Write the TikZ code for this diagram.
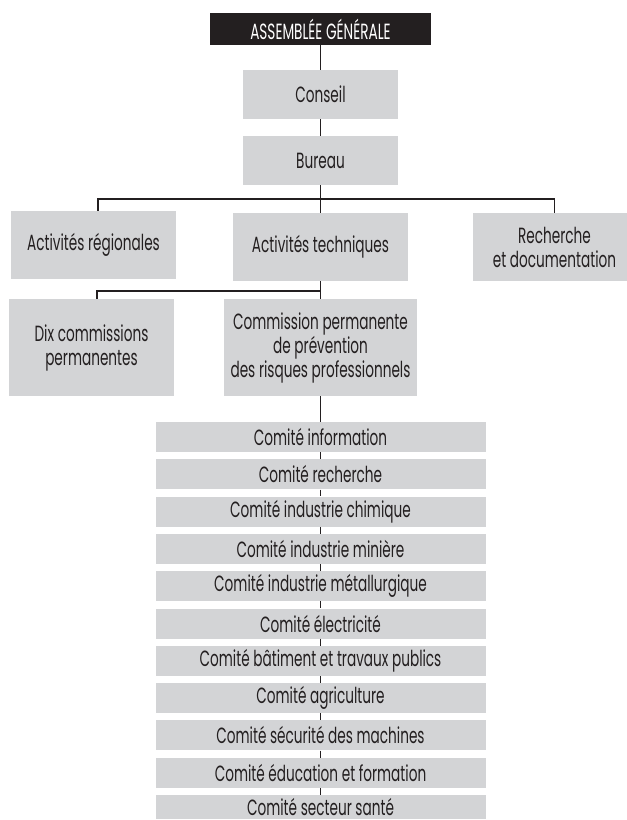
\documentclass[tikz,border=0pt]{standalone}
\usepackage{fontspec}
\setmainfont{Poppins}[FakeStretch=0.62]
\definecolor{boxgray}{HTML}{D3D4D6}
\definecolor{ink}{HTML}{231F20}
\tikzset{
  orgbox/.style={fill=boxgray, draw=none, inner sep=0pt, align=center, text=ink,
    font=\fontsize{22}{24}\selectfont},
  topbox/.style={fill=ink, draw=none, inner sep=0pt, align=center, text=white,
    font=\fontsize{22}{24}\selectfont},
  link/.style={draw=ink, line width=1.2pt},
}
\begin{document}
\begin{tikzpicture}[x=1pt,y=-1pt]
\useasboundingbox (0,0) rectangle (627,820);
\clip (0,0) rectangle (627,820);
\node[topbox, minimum width=221pt, minimum height=32pt] (ag) at (320.5,29) {ASSEMBLÉE GÉNÉRALE};
\node[orgbox, minimum width=155pt, minimum height=49pt] (conseil) at (320.5,94.5) {Conseil};
\node[orgbox, minimum width=155pt, minimum height=49pt] (bureau) at (320.5,160.5) {Bureau};
\node[orgbox, minimum width=165pt, minimum height=68pt] (regional) at (93.5,245) {Activités régionales};
\node[orgbox, minimum width=175pt, minimum height=68pt] (tech) at (320.5,247) {Activités techniques};
\node[orgbox, minimum width=163pt, minimum height=68pt] (rech) at (554.5,247) {Recherche\\et documentation};
\node[orgbox, minimum width=165pt, minimum height=97pt] (dix) at (91.5,347.5) {Dix commissions\\permanentes};
\node[orgbox, minimum width=193pt, minimum height=97pt] (cpp) at (320.5,347.5) {Commission permanente\\de prévention\\des risques professionnels};
\foreach \i/\t in {1/Comité information, 2/Comité recherche, 3/Comité industrie chimique,
  4/Comité industrie minière, 5/Comité industrie métallurgique, 6/Comité électricité,
  7/Comité bâtiment et travaux publics, 8/Comité agriculture, 9/Comité sécurité des machines,
  10/Comité éducation et formation}{
  \node[orgbox, minimum width=330pt, minimum height=30pt] (c\i) at (320.5,{437+37.3*(\i-1)}) {\t};
}
\node[orgbox, minimum width=330pt, minimum height=24pt] (c11) at (320.5,807) {Comité secteur santé};
\coordinate (bus1) at (320.5,199);
\coordinate (bus2) at (320.5,291);
\draw[link] (ag) -- (conseil);
\draw[link] (conseil) -- (bureau);
\draw[link] (bureau) -- (tech);
\draw[link] ([xshift=4.5pt]regional.north) |- (bus1) -| (rech.north);
\draw[link] (tech) -- (cpp);
\draw[link] ([xshift=5.5pt]dix.north) |- (bus2);
\draw[link] (cpp) -- (c1);
\foreach \i [evaluate=\i as \j using int(\i+1)] in {1,...,10}{
  \draw[link] (c\i) -- (c\j);
}
\end{tikzpicture}
\end{document}
